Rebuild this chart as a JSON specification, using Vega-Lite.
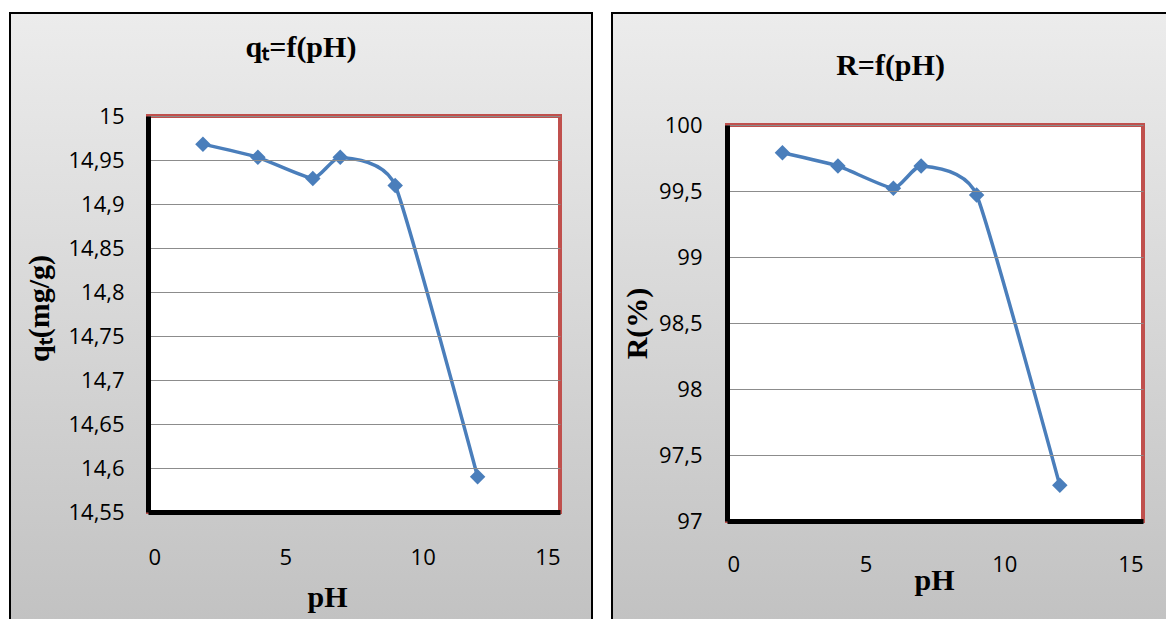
{
  "$schema": "https://vega.github.io/schema/vega-lite/v6.json",
  "background": "white",
  "padding": {"left": 9, "top": 12, "right": 0, "bottom": 0},
  "spacing": 18,
  "datasets": {
    "adsorption": [
      {"pH": 2, "qt": 14.968, "R": 99.79},
      {"pH": 4, "qt": 14.953, "R": 99.69},
      {"pH": 6, "qt": 14.929, "R": 99.52},
      {"pH": 7, "qt": 14.953, "R": 99.69},
      {"pH": 9, "qt": 14.921, "R": 99.47},
      {"pH": 12, "qt": 14.59, "R": 97.27}
    ],
    "frame": [{}]
  },
  "config": {
    "view": {
      "fill": {
        "gradient": "linear", "x1": 0, "y1": 0, "x2": 0, "y2": 1,
        "stops": [{"offset": 0, "color": "#ececec"}, {"offset": 1, "color": "#c2c2c2"}]
      },
      "stroke": "#000000",
      "strokeWidth": 2
    },
    "axis": {
      "labelFont": "Open Sans",
      "labelFontSize": 22,
      "labelColor": "#000000",
      "titleFont": "Liberation Serif",
      "titleFontSize": 30,
      "titleFontWeight": "bold",
      "titleColor": "#000000",
      "ticks": false,
      "tickSize": 0,
      "domainColor": "#000000",
      "domainWidth": 5,
      "gridColor": "#8c8c8c",
      "gridWidth": 1
    },
    "title": {
      "font": "Liberation Serif",
      "fontSize": 30,
      "fontWeight": "bold",
      "color": "#000000",
      "anchor": "middle",
      "frame": "group",
      "baseline": "alphabetic"
    }
  },
  "hconcat": [
    {
      "width": 582,
      "height": 607,
      "title": {"text": "qₜ=f(pH)", "offset": -50},
      "layer": [
        {
          "data": {"name": "frame"},
          "mark": {"type": "rect", "fill": "white", "stroke": "#c0504d", "strokeWidth": 4},
          "encoding": {
            "x": {
              "datum": 0, "type": "quantitative",
              "scale": {"domain": [0, 15], "range": [138, 550], "nice": false, "zero": false},
              "axis": {
                "title": "pH", "values": [0, 5, 10, 15], "grid": false, "zindex": 1,
                "offset": -108, "labelPadding": 35,
                "titleX": 317, "titleY": 94, "titleBaseline": "alphabetic", "titleAlign": "center"
              }
            },
            "x2": {"datum": 15},
            "y": {
              "datum": 14.55, "type": "quantitative",
              "scale": {"domain": [14.55, 15], "range": [499, 103], "nice": false, "zero": false},
              "axis": {
                "title": "qₜ(mg/g)",
                "values": [14.55, 14.6, 14.65, 14.7, 14.75, 14.8, 14.85, 14.9, 14.95, 15],
                "labelExpr": "replace(format(datum.value, '.2~f'), '.', ',')",
                "grid": true, "zindex": 1, "offset": -138, "labelPadding": 24,
                "titleX": -109, "titleY": 295, "titleAngle": -90,
                "titleBaseline": "middle", "titleAlign": "center"
              }
            },
            "y2": {"datum": 15}
          }
        },
        {
          "data": {"name": "adsorption"},
          "mark": {"type": "line", "interpolate": "cardinal", "tension": 0.5, "color": "#4a7ebb", "strokeWidth": 3.5},
          "encoding": {
            "x": {"field": "pH", "type": "quantitative"},
            "y": {"field": "qt", "type": "quantitative"}
          }
        },
        {
          "data": {"name": "adsorption"},
          "mark": {"type": "point", "shape": "diamond", "filled": true, "size": 240, "color": "#4a7ebb", "opacity": 1},
          "encoding": {
            "x": {"field": "pH", "type": "quantitative"},
            "y": {"field": "qt", "type": "quantitative"}
          }
        }
      ]
    },
    {
      "width": 557,
      "height": 607,
      "title": {"text": "R=f(pH)", "offset": -68},
      "layer": [
        {
          "data": {"name": "frame"},
          "mark": {"type": "rect", "fill": "white", "stroke": "#c0504d", "strokeWidth": 4},
          "encoding": {
            "x": {
              "datum": 0, "type": "quantitative",
              "scale": {"domain": [0, 15], "range": [115, 531], "nice": false, "zero": false},
              "axis": {
                "title": "pH", "values": [0, 5, 10, 15], "grid": false, "zindex": 1,
                "offset": -99, "labelPadding": 33,
                "titleX": 322, "titleY": 68, "titleBaseline": "alphabetic", "titleAlign": "center"
              }
            },
            "x2": {"datum": 15},
            "y": {
              "datum": 97, "type": "quantitative",
              "scale": {"domain": [97, 100], "range": [508, 112], "nice": false, "zero": false},
              "axis": {
                "title": "R(%)",
                "values": [97, 97.5, 98, 98.5, 99, 99.5, 100],
                "labelExpr": "replace(format(datum.value, '.1~f'), '.', ',')",
                "grid": true, "zindex": 1, "offset": -115, "labelPadding": 25,
                "titleX": -90, "titleY": 310, "titleAngle": -90,
                "titleBaseline": "middle", "titleAlign": "center"
              }
            },
            "y2": {"datum": 100}
          }
        },
        {
          "data": {"name": "adsorption"},
          "mark": {"type": "line", "interpolate": "cardinal", "tension": 0.5, "color": "#4a7ebb", "strokeWidth": 3.5},
          "encoding": {
            "x": {"field": "pH", "type": "quantitative"},
            "y": {"field": "R", "type": "quantitative"}
          }
        },
        {
          "data": {"name": "adsorption"},
          "mark": {"type": "point", "shape": "diamond", "filled": true, "size": 240, "color": "#4a7ebb", "opacity": 1},
          "encoding": {
            "x": {"field": "pH", "type": "quantitative"},
            "y": {"field": "R", "type": "quantitative"}
          }
        }
      ]
    }
  ]
}
